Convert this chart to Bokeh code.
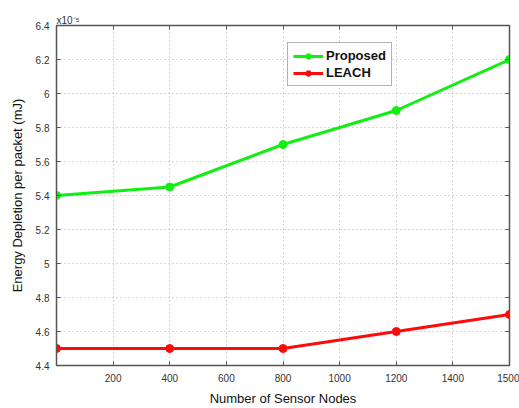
from bokeh.plotting import figure
from bokeh.models import Range1d, FixedTicker, LinearAxis, Legend, LegendItem, Title
from bokeh.embed import file_html
from bokeh.resources import INLINE

# data
node_pos = [0, 400, 800, 1200, 1600]
proposed = [5.40, 5.45, 5.70, 5.90, 6.20]
leach = [4.50, 4.50, 4.50, 4.60, 4.70]
x_tick_pos = [200, 400, 600, 800, 1000, 1200, 1400, 1600]
x_tick_labels = ["200", "400", "600", "800", "1000", "1200", "1400", "1500"]
y_ticks = [4.4, 4.6, 4.8, 5.0, 5.2, 5.4, 5.6, 5.8, 6.0, 6.2, 6.4]
y_tick_labels = ["4.4", "4.6", "4.8", "5", "5.2", "5.4", "5.6", "5.8", "6", "6.2", "6.4"]

FONT = "Liberation Sans"

p = figure(width=519, height=408, output_backend="svg", toolbar_location=None,
           x_range=Range1d(0, 1600), y_range=Range1d(4.4, 6.4),
           min_border_left=56, min_border_right=10, min_border_top=25, min_border_bottom=41)
p.background_fill_color = "white"
p.border_fill_color = "white"
p.outline_line_color = "#555555"
p.outline_line_width = 1.5

for ax, ticks, labels in ((p.xaxis[0], x_tick_pos, x_tick_labels), (p.yaxis[0], y_ticks, y_tick_labels)):
    ax.ticker = FixedTicker(ticks=ticks)
    ax.major_label_overrides = {t: l for t, l in zip(ticks, labels)}
    ax.major_tick_in = 4
    ax.major_tick_out = 0
    ax.minor_tick_line_color = None
    ax.axis_line_color = "#555555"
    ax.major_tick_line_color = "#555555"
    ax.major_label_text_font = FONT
    ax.major_label_text_font_size = "10px"
    ax.major_label_text_color = "#333333"
    ax.axis_label_text_font = FONT
    ax.axis_label_text_font_size = "13px"
    ax.axis_label_text_font_style = "normal"
    ax.axis_label_text_color = "#111111"

p.xaxis.axis_label = "Number of Sensor Nodes"
p.yaxis.axis_label = "Energy Depletion per packet (mJ)"
p.xaxis.major_label_standoff = 8
p.xaxis.axis_label_standoff = 6
p.yaxis.major_label_standoff = 7
p.yaxis.axis_label_standoff = 8

# mirrored axes (ticks on top and right, no labels)
for loc, ticks in (("above", x_tick_pos), ("right", y_ticks)):
    a = LinearAxis(ticker=FixedTicker(ticks=ticks), major_tick_in=4, major_tick_out=0,
                   minor_tick_line_color=None, major_label_overrides={t: "" for t in ticks},
                   major_label_standoff=0,
                   axis_line_color="#555555", major_tick_line_color="#555555")
    p.add_layout(a, loc)

p.xgrid.ticker = FixedTicker(ticks=x_tick_pos)
p.ygrid.ticker = FixedTicker(ticks=y_ticks)
for g in (p.xgrid, p.ygrid):
    g.grid_line_color = "#aaaaaa"
    g.grid_line_dash = "1 3"
    g.grid_line_width = 1

g1 = p.line(node_pos, proposed, line_color="#11ee11", line_width=3)
s1 = p.scatter(node_pos, proposed, size=8, fill_color="#11ee11", line_color="#11ee11")
g2 = p.line(node_pos, leach, line_color="#ff0a0a", line_width=3)
s2 = p.scatter(node_pos, leach, size=8, fill_color="#ff0a0a", line_color="#ff0a0a")

legend = Legend(items=[LegendItem(label="Proposed", renderers=[g1, s1]),
                       LegendItem(label="LEACH", renderers=[g2, s2])],
                location=(231, 279), label_text_font=FONT, label_text_font_size="13px",
                label_text_font_style="bold", label_text_color="#111111",
                glyph_width=30, glyph_height=14, label_height=14, spacing=2,
                padding=5, margin=0, border_line_color="#666666", border_line_width=1.5,
                label_standoff=3)
p.add_layout(legend, "center")

p.add_layout(Title(text="x10\u207b\u2075", align="left", offset=0, standoff=0,
                   text_font=FONT, text_font_size="10px", text_font_style="normal",
                   text_color="#333333"), "above")

open("out.html", "w").write(file_html(p, INLINE))
